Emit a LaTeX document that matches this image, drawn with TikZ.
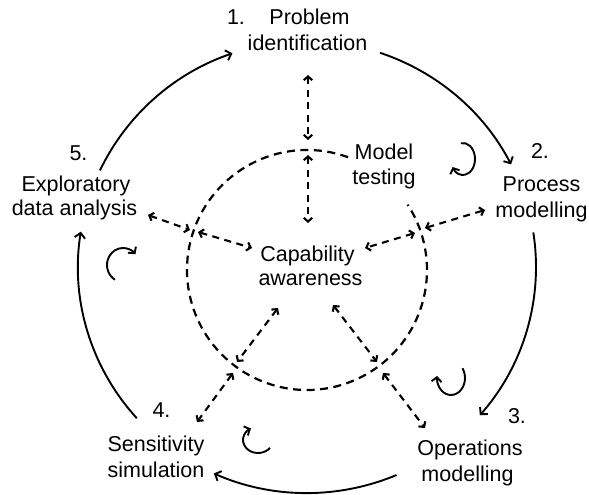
\documentclass[tikz,border=0pt]{standalone}
\usepackage{fontspec}
\setmainfont{Liberation Sans}
\usetikzlibrary{arrows.meta}
\begin{document}
\begin{tikzpicture}[x=1pt,y=1pt,
 lbl/.style={anchor=base, inner sep=0pt, font=\fontsize{21.5}{25}\selectfont},
 cyc/.style={line width=1.9pt, -{Straight Barb[length=5pt,width=10.5pt]}},
 link/.style={line width=2.1pt, dash pattern=on 7pt off 5.5pt, {Straight Barb[length=3.8pt,width=8.5pt]}-{Straight Barb[length=3.8pt,width=8.5pt]}},
 ring/.style={line width=2.2pt, dash pattern=on 8pt off 5.5pt},
 curl/.style={line width=1.9pt, -{Straight Barb[length=4.5pt,width=10pt]}}]
\useasboundingbox (0,0) rectangle (589,495);

% stage labels
\node[lbl] (n1) at (236,470) {1.};
\node[lbl] (p1a) at (309.5,470) {Problem};
\node[lbl] (p1b) at (307.5,444.5) {identification};
\node[lbl] (mt1) at (384,335) {Model};
\node[lbl] (mt2) at (384,310) {testing};
\node[lbl] (ca1) at (307.5,233) {Capability};
\node[lbl] (ca2) at (310.5,209) {awareness};
\node[lbl] (n2) at (540,336) {2.};
\node[lbl] (p2a) at (541.5,303) {Process};
\node[lbl] (p2b) at (541.5,277) {modelling};
\node[lbl] (n3) at (517,71) {3.};
\node[lbl] (p3a) at (470,39) {Operations};
\node[lbl] (p3b) at (467.5,13) {modelling};
\node[lbl] (n4) at (161.5,77) {4.};
\node[lbl] (p4a) at (156,43) {Sensitivity};
\node[lbl] (p4b) at (156,17) {simulation};
\node[lbl] (n5) at (78.5,334) {5.};
\node[lbl] (p5a) at (76,303) {Exploratory};
\node[lbl] (p5b) at (74.5,279) {data analysis};

% centres
\coordinate (O) at (307,228);
\coordinate (C) at (307,225);

% dashed inner ring with gap at Model testing
\draw[ring] ([shift={(70:120)}]C) arc[start angle=70, end angle=393, radius=120];

% outer cycle
\coordinate (a12) at ([shift={(71.4:229 and 226)}]O);
\coordinate (a23) at ([shift={(8.8:229 and 226)}]O);
\coordinate (a34) at ([shift={(-67:229 and 226)}]O);
\coordinate (a45) at ([shift={(-138:229 and 226)}]O);
\coordinate (a51) at ([shift={(154.7:229 and 226)}]O);
\draw[cyc] (a12) arc[start angle=71.4, end angle=27, x radius=229, y radius=226];
\draw[cyc] (a23) arc[start angle=8.8, end angle=-41, x radius=229, y radius=226];
\draw[cyc] (a34) arc[start angle=-67, end angle=-114, x radius=229, y radius=226];
\draw[cyc] (a45) arc[start angle=-138, end angle=-189, x radius=229, y radius=226];
\draw[cyc] (a51) arc[start angle=154.7, end angle=109, x radius=229, y radius=226];

% dashed double arrows
\coordinate (d1a) at (308,420); \coordinate (d1b) at (308,355);
\coordinate (d2a) at (308,340); \coordinate (d2b) at (308,272);
\coordinate (d3a) at (148,280); \coordinate (d3b) at (190,265);
\coordinate (d4a) at (198,263); \coordinate (d4b) at (252,247);
\coordinate (d5a) at (425,267); \coordinate (d5b) at (485,285);
\coordinate (d6a) at (415,262); \coordinate (d6b) at (365,247);
\coordinate (d7a) at (278,187); \coordinate (d7b) at (237,133);
\coordinate (d8a) at (233,122); \coordinate (d8b) at (197,73);
\coordinate (d9a) at (333,190); \coordinate (d9b) at (377,133);
\coordinate (d10a) at (383,122); \coordinate (d10b) at (425,67);
\foreach \i in {1,...,10} {\draw[link] (d\i a) -- (d\i b);}

% small cycle arrows
\draw[curl] ([shift={(100:12 and 16)}]463,336) arc[start angle=100, end angle=-150, x radius=12, y radius=16];
\draw[curl] ([shift={(35:14 and 17)}]451,117) arc[start angle=35, end angle=-187, x radius=14, y radius=17];
\draw[curl] ([shift={(-37:15 and 13)}]258,55) arc[start angle=-37, end angle=-242, x radius=15, y radius=13];
\draw[curl] ([shift={(240:16 and 17)}]123,230) arc[start angle=240, end angle=39, x radius=16, y radius=17];
\end{tikzpicture}
\end{document}
